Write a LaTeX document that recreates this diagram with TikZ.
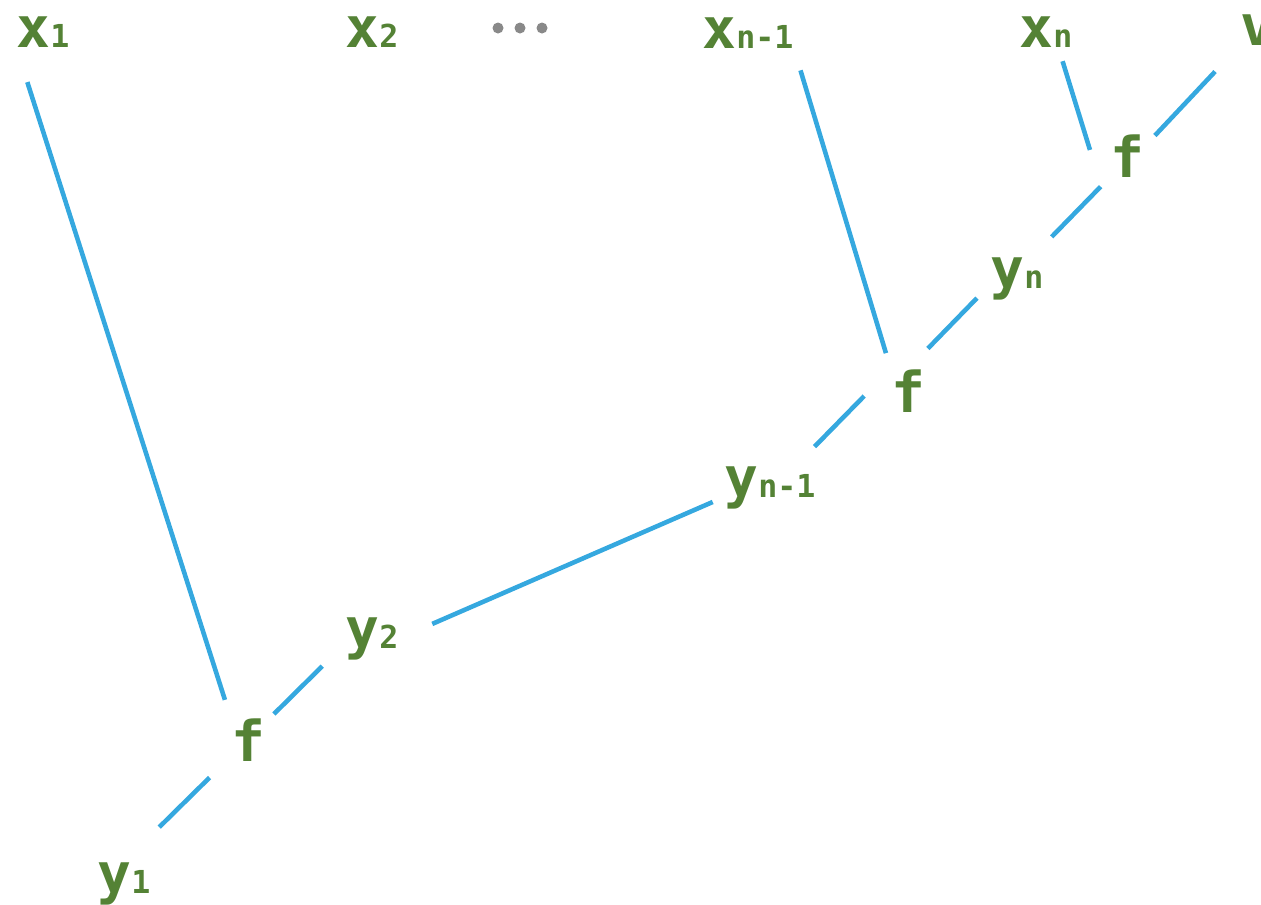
\documentclass[tikz,border=0pt]{standalone}
\usepackage{fontspec}
\setmonofont{DejaVu Sans Mono}
\usepackage{tikz}
\usetikzlibrary{calc}
\usepackage{xcolor}
\definecolor{labelgreen}{RGB}{84,130,53}
\definecolor{wireblue}{RGB}{53,168,223}
\definecolor{dotgray}{RGB}{137,137,137}

\newcommand{\lsub}[1]{{\fontsize{18}{18}\selectfont #1}}

\tikzset{
  lbl/.style={font=\ttfamily\bfseries\fontsize{32}{32}\selectfont, text=labelgreen, inner sep=0pt, anchor=base},
  wire/.style={draw=wireblue, line width=2.6pt},
}

\begin{document}
\begin{tikzpicture}[x=0.02cm, y=-0.02cm]
  \useasboundingbox (0,0) rectangle (1261,904);

  % Inputs
  \node[lbl] (x1) at (43,47) {x\lsub{1}};
  \node[lbl] (x2) at (372,47) {x\lsub{2}};
  \foreach \dx in {498,520,542}
    \fill[dotgray] (\dx,28) circle (5.5);
  \node[lbl] (xn1) at (748,48) {x\lsub{n-1}};
  \node[lbl] (xn) at (1046,47) {x\lsub{n}};
  \node[lbl] (v) at (1257,45) {v};

  % Steps
  \node[lbl] (ft) at (1127,177) {f};
  \node[lbl] (yn) at (1017,288) {y\lsub{n}};
  \node[lbl] (fm) at (908,412) {f};
  \node[lbl] (yn1) at (770,497) {y\lsub{n-1}};
  \node[lbl] (y2) at (372,648) {y\lsub{2}};
  \node[lbl] (fb) at (248,761) {f};
  \node[lbl] (y1) at (124,893) {y\lsub{1}};

  % Wires
  \draw[wire, shorten <=0.73cm, shorten >=0.38cm] (x1.south west) -- (fb.north west);
  \draw[wire, shorten <=1.08cm, shorten >=0.99cm] (fb.center) -- (y1.north);
  \draw[wire, shorten <=0.73cm, shorten >=1.4cm] (fb.center) -- (y2.north);
  \draw[wire, shorten <=0.73cm, shorten >=0.25cm] (y2.east) -- (yn1.base west);
  \draw[wire, shorten <=0.54cm, shorten >=0.76cm] (yn1.40) -- (fm.north west);
  \draw[wire, shorten <=0.46cm, shorten >=0.33cm] (xn1.south east) -- (fm.north west);
  \draw[wire, shorten <=0.57cm, shorten >=1.15cm] (fm.north) -- (yn.north);
  \draw[wire, shorten <=0.56cm, shorten >=0.26cm] (yn.55) -- (ft.south west);
  \draw[wire, shorten <=0.29cm, shorten >=0.12cm] (xn.-52) -- ([xshift=-0.36cm]ft.west);
  \draw[wire, shorten <=0.31cm, shorten >=0.72cm] (ft.27) -- (v.south west);
\end{tikzpicture}
\end{document}
